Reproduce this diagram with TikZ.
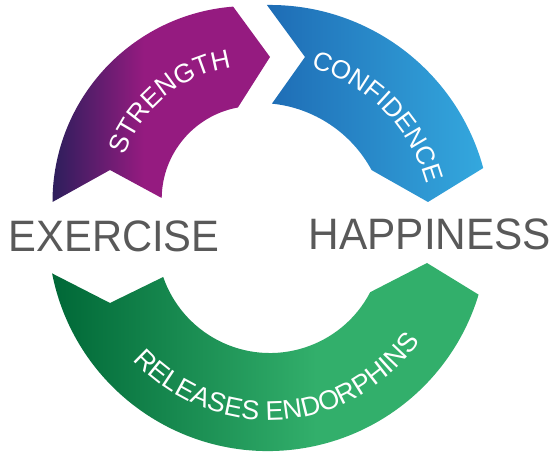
\documentclass[tikz,border=0pt]{standalone}
\usepackage{fontspec}
\setmainfont{Liberation Sans}
\newfontfamily\exfont{Liberation Sans}[FakeStretch=0.948]
\newfontfamily\hapfont{Liberation Sans}[FakeStretch=0.963]
\usetikzlibrary{decorations.text}
\definecolor{pd}{RGB}{45,30,92}
\definecolor{pm}{RGB}{149,27,128}
\definecolor{bl}{RGB}{30,108,181}
\definecolor{br}{RGB}{52,168,222}
\definecolor{gd}{RGB}{0,104,55}
\definecolor{gl}{RGB}{50,175,107}
\definecolor{wordgray}{RGB}{89,89,89}
\pgfdeclarehorizontalshading{purpshade}{100bp}{color(0bp)=(pd); color(25bp)=(pd); color(46bp)=(pm); color(100bp)=(pm)}
\pgfdeclarehorizontalshading{blueshade}{100bp}{color(0bp)=(bl); color(25bp)=(bl); color(75bp)=(br); color(100bp)=(br)}
\pgfdeclarehorizontalshading{greenshade}{100bp}{color(0bp)=(gd); color(25bp)=(gd); color(56bp)=(gl); color(100bp)=(gl)}
\begin{document}
\begin{tikzpicture}[x=1pt,y=-1pt,
  arctext/.style={decorate, decoration={text along path, text align=center, text={#1}}},
  bigword/.style={anchor=base west, inner sep=0pt, text=wordgray}]
\useasboundingbox (0,0) rectangle (558,454);
% purple arrow
\path[shading=purpshade, shading angle=0]
  (52.5,202) arc[start angle=180, end angle=265.5, radius=196]
  -- (270,57) -- (237.9,107.5)
  arc[start angle=259.6, end angle=180.6, radius=93]
  -- (110,170) -- cycle;
% blue arrow
\path[shading=blueshade, shading angle=0]
  (266.9,5) arc[start angle=269.2, end angle=344.8, radius=221]
  -- (428,202) -- (371.6,170.1)
  arc[start angle=331.6, end angle=275.8, radius=128]
  -- (305,57) -- cycle;
% green arrow
\path[shading=greenshade, shading angle=0]
  (52.1,273.4) arc[start angle=168.9, end angle=16.8, radius=220]
  -- (427,263) -- (370.2,292.2)
  arc[start angle=27.5, end angle=160.9, radius=113]
  -- (110,303) -- cycle;
% arc texts
\path[arctext={|\color{white}\fontsize{26.5}{26.5}\selectfont|STRENGTH}]
  (251,200) ++(180.5:134) arc[start angle=180.5, end angle=280.5, radius=134];
\path[arctext={|\color{white}\fontsize{26}{26}\selectfont|CONFIDENCE}]
  (265,228) ++(265.4:167) arc[start angle=265.4, end angle=365.4, radius=167];
\path[arctext={|\color{white}\fontsize{27}{27}\selectfont|RELEASES ENDORPHINS}]
  (269,236) ++(161.3:184) arc[start angle=161.3, end angle=11.3, radius=184];
% words
\node[bigword, font=\exfont\fontsize{44}{44}\selectfont] (ex) at (8.5,251.7) {EXERCISE};
\node[bigword, font=\hapfont\fontsize{44}{44}\selectfont] (hap) at (308.5,249.3) {HAPPINESS};
\end{tikzpicture}
\end{document}
